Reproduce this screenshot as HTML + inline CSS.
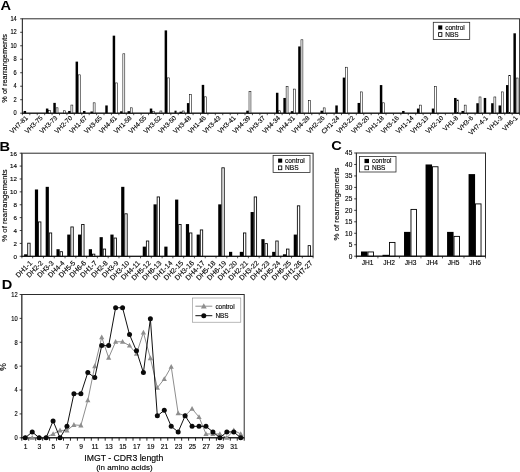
<!DOCTYPE html>
<html><head><meta charset="utf-8"><title>Figure</title>
<style>
html,body{margin:0;padding:0;background:#fff;}
svg{display:block;}
svg text{font-family:'Liberation Sans', sans-serif;}
</style></head><body>
<svg width="520" height="472" viewBox="0 0 520 472">
<rect width="520" height="472" fill="#fff"/>
<g id="panelA">
<text x="0.60" y="10.10" font-size="12.5" text-anchor="start" font-weight="bold" fill="#000" transform="translate(0.60 10.10) scale(1.17 1) translate(-0.60 -10.10)">A</text>
<rect x="22.4" y="18.8" width="497.20" height="94.40" fill="none" stroke="#2c2c2c" stroke-width="1"/>
<rect x="23.64" y="110.97" width="2.47" height="2.23" fill="#000"/>
<rect x="45.90" y="108.55" width="2.47" height="4.65" fill="#000"/>
<rect x="48.65" y="110.71" width="1.92" height="2.49" fill="#fff" stroke="#000" stroke-width="0.55"/>
<rect x="53.32" y="102.88" width="2.47" height="10.32" fill="#000"/>
<rect x="56.07" y="107.81" width="1.92" height="5.39" fill="#fff" stroke="#000" stroke-width="0.55"/>
<rect x="63.49" y="110.78" width="1.92" height="2.42" fill="#fff" stroke="#000" stroke-width="0.55"/>
<rect x="68.16" y="110.97" width="2.47" height="2.23" fill="#000"/>
<rect x="70.91" y="105.05" width="1.92" height="8.15" fill="#fff" stroke="#000" stroke-width="0.55"/>
<rect x="75.58" y="61.62" width="2.47" height="51.58" fill="#000"/>
<rect x="78.33" y="74.84" width="1.92" height="38.36" fill="#fff" stroke="#000" stroke-width="0.55"/>
<rect x="83.00" y="110.97" width="2.47" height="2.23" fill="#000"/>
<rect x="90.42" y="111.51" width="2.47" height="1.69" fill="#000"/>
<rect x="93.17" y="102.82" width="1.92" height="10.38" fill="#fff" stroke="#000" stroke-width="0.55"/>
<rect x="105.27" y="105.45" width="2.47" height="7.75" fill="#000"/>
<rect x="112.69" y="35.66" width="2.47" height="77.54" fill="#000"/>
<rect x="115.44" y="82.93" width="1.92" height="30.27" fill="#fff" stroke="#000" stroke-width="0.55"/>
<rect x="120.11" y="111.31" width="2.47" height="1.89" fill="#000"/>
<rect x="122.86" y="53.80" width="1.92" height="59.40" fill="#fff" stroke="#000" stroke-width="0.55"/>
<rect x="127.53" y="111.18" width="2.47" height="2.02" fill="#000"/>
<rect x="130.28" y="107.81" width="1.92" height="5.39" fill="#fff" stroke="#000" stroke-width="0.55"/>
<rect x="149.79" y="108.55" width="2.47" height="4.65" fill="#000"/>
<rect x="152.54" y="111.25" width="1.92" height="1.95" fill="#fff" stroke="#000" stroke-width="0.55"/>
<rect x="159.96" y="110.98" width="1.92" height="2.22" fill="#fff" stroke="#000" stroke-width="0.55"/>
<rect x="164.63" y="30.40" width="2.47" height="82.80" fill="#000"/>
<rect x="167.38" y="77.87" width="1.92" height="35.33" fill="#fff" stroke="#000" stroke-width="0.55"/>
<rect x="174.80" y="110.98" width="1.92" height="2.22" fill="#fff" stroke="#000" stroke-width="0.55"/>
<rect x="179.48" y="111.72" width="2.47" height="1.48" fill="#000"/>
<rect x="182.22" y="110.98" width="1.92" height="2.22" fill="#fff" stroke="#000" stroke-width="0.55"/>
<rect x="186.90" y="103.09" width="2.47" height="10.11" fill="#000"/>
<rect x="189.65" y="94.60" width="1.92" height="18.60" fill="#fff" stroke="#000" stroke-width="0.55"/>
<rect x="201.74" y="84.88" width="2.47" height="28.32" fill="#000"/>
<rect x="204.49" y="96.82" width="1.92" height="16.38" fill="#fff" stroke="#000" stroke-width="0.55"/>
<rect x="246.26" y="110.71" width="2.47" height="2.49" fill="#000"/>
<rect x="249.01" y="91.56" width="1.92" height="21.64" fill="#fff" stroke="#000" stroke-width="0.55"/>
<rect x="275.95" y="92.77" width="2.47" height="20.43" fill="#000"/>
<rect x="278.70" y="110.78" width="1.92" height="2.42" fill="#fff" stroke="#000" stroke-width="0.55"/>
<rect x="283.37" y="97.96" width="2.47" height="15.24" fill="#000"/>
<rect x="286.12" y="86.37" width="1.92" height="26.83" fill="#fff" stroke="#000" stroke-width="0.55"/>
<rect x="290.79" y="111.18" width="2.47" height="2.02" fill="#000"/>
<rect x="293.54" y="89.07" width="1.92" height="24.13" fill="#fff" stroke="#000" stroke-width="0.55"/>
<rect x="298.21" y="46.45" width="2.47" height="66.75" fill="#000"/>
<rect x="300.96" y="39.78" width="1.92" height="73.42" fill="#fff" stroke="#000" stroke-width="0.55"/>
<rect x="308.38" y="100.33" width="1.92" height="12.87" fill="#fff" stroke="#000" stroke-width="0.55"/>
<rect x="320.47" y="110.71" width="2.47" height="2.49" fill="#000"/>
<rect x="323.22" y="107.88" width="1.92" height="5.32" fill="#fff" stroke="#000" stroke-width="0.55"/>
<rect x="335.31" y="105.45" width="2.47" height="7.75" fill="#000"/>
<rect x="342.74" y="77.60" width="2.47" height="35.60" fill="#000"/>
<rect x="345.48" y="67.22" width="1.92" height="45.98" fill="#fff" stroke="#000" stroke-width="0.55"/>
<rect x="357.58" y="102.95" width="2.47" height="10.25" fill="#000"/>
<rect x="360.33" y="91.90" width="1.92" height="21.30" fill="#fff" stroke="#000" stroke-width="0.55"/>
<rect x="379.84" y="85.08" width="2.47" height="28.12" fill="#000"/>
<rect x="382.59" y="102.82" width="1.92" height="10.38" fill="#fff" stroke="#000" stroke-width="0.55"/>
<rect x="402.10" y="110.97" width="2.47" height="2.23" fill="#000"/>
<rect x="416.94" y="108.55" width="2.47" height="4.65" fill="#000"/>
<rect x="419.69" y="105.11" width="1.92" height="8.09" fill="#fff" stroke="#000" stroke-width="0.55"/>
<rect x="431.79" y="108.55" width="2.47" height="4.65" fill="#000"/>
<rect x="434.53" y="86.30" width="1.92" height="26.90" fill="#fff" stroke="#000" stroke-width="0.55"/>
<rect x="454.05" y="97.96" width="2.47" height="15.24" fill="#000"/>
<rect x="456.80" y="99.99" width="1.92" height="13.21" fill="#fff" stroke="#000" stroke-width="0.55"/>
<rect x="461.47" y="110.97" width="2.47" height="2.23" fill="#000"/>
<rect x="464.22" y="105.11" width="1.92" height="8.09" fill="#fff" stroke="#000" stroke-width="0.55"/>
<rect x="476.31" y="103.22" width="2.47" height="9.98" fill="#000"/>
<rect x="479.06" y="96.96" width="1.92" height="16.24" fill="#fff" stroke="#000" stroke-width="0.55"/>
<rect x="483.73" y="97.96" width="2.47" height="15.24" fill="#000"/>
<rect x="491.15" y="103.22" width="2.47" height="9.98" fill="#000"/>
<rect x="493.90" y="96.96" width="1.92" height="16.24" fill="#fff" stroke="#000" stroke-width="0.55"/>
<rect x="498.57" y="105.45" width="2.47" height="7.75" fill="#000"/>
<rect x="501.32" y="91.90" width="1.92" height="21.30" fill="#fff" stroke="#000" stroke-width="0.55"/>
<rect x="506.00" y="85.08" width="2.47" height="28.12" fill="#000"/>
<rect x="508.74" y="75.38" width="1.92" height="37.82" fill="#fff" stroke="#000" stroke-width="0.55"/>
<rect x="513.42" y="33.30" width="2.47" height="79.90" fill="#000"/>
<rect x="516.16" y="78.01" width="1.92" height="35.19" fill="#fff" stroke="#000" stroke-width="0.55"/>
<line x1="22.40" y1="18.80" x2="22.40" y2="113.60" stroke="#3a3a3a" stroke-width="1.0"/>
<line x1="22.00" y1="113.20" x2="519.60" y2="113.20" stroke="#111" stroke-width="1.0"/>
<line x1="20.20" y1="113.20" x2="22.40" y2="113.20" stroke="#111" stroke-width="0.8"/>
<text x="16.80" y="115.40" font-size="6.3" text-anchor="end" font-weight="normal" fill="#000" transform="translate(16.80 115.40) scale(0.9 1) translate(-16.80 -115.40)" stroke="#000" stroke-width="0.13">0</text>
<line x1="20.20" y1="99.71" x2="22.40" y2="99.71" stroke="#111" stroke-width="0.8"/>
<text x="16.80" y="101.91" font-size="6.3" text-anchor="end" font-weight="normal" fill="#000" transform="translate(16.80 101.91) scale(0.9 1) translate(-16.80 -101.91)" stroke="#000" stroke-width="0.13">2</text>
<line x1="20.20" y1="86.23" x2="22.40" y2="86.23" stroke="#111" stroke-width="0.8"/>
<text x="16.80" y="88.43" font-size="6.3" text-anchor="end" font-weight="normal" fill="#000" transform="translate(16.80 88.43) scale(0.9 1) translate(-16.80 -88.43)" stroke="#000" stroke-width="0.13">4</text>
<line x1="20.20" y1="72.74" x2="22.40" y2="72.74" stroke="#111" stroke-width="0.8"/>
<text x="16.80" y="74.94" font-size="6.3" text-anchor="end" font-weight="normal" fill="#000" transform="translate(16.80 74.94) scale(0.9 1) translate(-16.80 -74.94)" stroke="#000" stroke-width="0.13">6</text>
<line x1="20.20" y1="59.26" x2="22.40" y2="59.26" stroke="#111" stroke-width="0.8"/>
<text x="16.80" y="61.46" font-size="6.3" text-anchor="end" font-weight="normal" fill="#000" transform="translate(16.80 61.46) scale(0.9 1) translate(-16.80 -61.46)" stroke="#000" stroke-width="0.13">8</text>
<line x1="20.20" y1="45.77" x2="22.40" y2="45.77" stroke="#111" stroke-width="0.8"/>
<text x="16.80" y="47.97" font-size="6.3" text-anchor="end" font-weight="normal" fill="#000" transform="translate(16.80 47.97) scale(0.9 1) translate(-16.80 -47.97)" stroke="#000" stroke-width="0.13">10</text>
<line x1="20.20" y1="32.29" x2="22.40" y2="32.29" stroke="#111" stroke-width="0.8"/>
<text x="16.80" y="34.49" font-size="6.3" text-anchor="end" font-weight="normal" fill="#000" transform="translate(16.80 34.49) scale(0.9 1) translate(-16.80 -34.49)" stroke="#000" stroke-width="0.13">12</text>
<line x1="20.20" y1="18.80" x2="22.40" y2="18.80" stroke="#111" stroke-width="0.8"/>
<text x="16.80" y="21.00" font-size="6.3" text-anchor="end" font-weight="normal" fill="#000" transform="translate(16.80 21.00) scale(0.9 1) translate(-16.80 -21.00)" stroke="#000" stroke-width="0.13">14</text>
<line x1="22.40" y1="113.20" x2="22.40" y2="115.20" stroke="#111" stroke-width="0.7"/>
<line x1="29.82" y1="113.20" x2="29.82" y2="115.20" stroke="#111" stroke-width="0.7"/>
<line x1="37.24" y1="113.20" x2="37.24" y2="115.20" stroke="#111" stroke-width="0.7"/>
<line x1="44.66" y1="113.20" x2="44.66" y2="115.20" stroke="#111" stroke-width="0.7"/>
<line x1="52.08" y1="113.20" x2="52.08" y2="115.20" stroke="#111" stroke-width="0.7"/>
<line x1="59.50" y1="113.20" x2="59.50" y2="115.20" stroke="#111" stroke-width="0.7"/>
<line x1="66.93" y1="113.20" x2="66.93" y2="115.20" stroke="#111" stroke-width="0.7"/>
<line x1="74.35" y1="113.20" x2="74.35" y2="115.20" stroke="#111" stroke-width="0.7"/>
<line x1="81.77" y1="113.20" x2="81.77" y2="115.20" stroke="#111" stroke-width="0.7"/>
<line x1="89.19" y1="113.20" x2="89.19" y2="115.20" stroke="#111" stroke-width="0.7"/>
<line x1="96.61" y1="113.20" x2="96.61" y2="115.20" stroke="#111" stroke-width="0.7"/>
<line x1="104.03" y1="113.20" x2="104.03" y2="115.20" stroke="#111" stroke-width="0.7"/>
<line x1="111.45" y1="113.20" x2="111.45" y2="115.20" stroke="#111" stroke-width="0.7"/>
<line x1="118.87" y1="113.20" x2="118.87" y2="115.20" stroke="#111" stroke-width="0.7"/>
<line x1="126.29" y1="113.20" x2="126.29" y2="115.20" stroke="#111" stroke-width="0.7"/>
<line x1="133.71" y1="113.20" x2="133.71" y2="115.20" stroke="#111" stroke-width="0.7"/>
<line x1="141.13" y1="113.20" x2="141.13" y2="115.20" stroke="#111" stroke-width="0.7"/>
<line x1="148.56" y1="113.20" x2="148.56" y2="115.20" stroke="#111" stroke-width="0.7"/>
<line x1="155.98" y1="113.20" x2="155.98" y2="115.20" stroke="#111" stroke-width="0.7"/>
<line x1="163.40" y1="113.20" x2="163.40" y2="115.20" stroke="#111" stroke-width="0.7"/>
<line x1="170.82" y1="113.20" x2="170.82" y2="115.20" stroke="#111" stroke-width="0.7"/>
<line x1="178.24" y1="113.20" x2="178.24" y2="115.20" stroke="#111" stroke-width="0.7"/>
<line x1="185.66" y1="113.20" x2="185.66" y2="115.20" stroke="#111" stroke-width="0.7"/>
<line x1="193.08" y1="113.20" x2="193.08" y2="115.20" stroke="#111" stroke-width="0.7"/>
<line x1="200.50" y1="113.20" x2="200.50" y2="115.20" stroke="#111" stroke-width="0.7"/>
<line x1="207.92" y1="113.20" x2="207.92" y2="115.20" stroke="#111" stroke-width="0.7"/>
<line x1="215.34" y1="113.20" x2="215.34" y2="115.20" stroke="#111" stroke-width="0.7"/>
<line x1="222.76" y1="113.20" x2="222.76" y2="115.20" stroke="#111" stroke-width="0.7"/>
<line x1="230.19" y1="113.20" x2="230.19" y2="115.20" stroke="#111" stroke-width="0.7"/>
<line x1="237.61" y1="113.20" x2="237.61" y2="115.20" stroke="#111" stroke-width="0.7"/>
<line x1="245.03" y1="113.20" x2="245.03" y2="115.20" stroke="#111" stroke-width="0.7"/>
<line x1="252.45" y1="113.20" x2="252.45" y2="115.20" stroke="#111" stroke-width="0.7"/>
<line x1="259.87" y1="113.20" x2="259.87" y2="115.20" stroke="#111" stroke-width="0.7"/>
<line x1="267.29" y1="113.20" x2="267.29" y2="115.20" stroke="#111" stroke-width="0.7"/>
<line x1="274.71" y1="113.20" x2="274.71" y2="115.20" stroke="#111" stroke-width="0.7"/>
<line x1="282.13" y1="113.20" x2="282.13" y2="115.20" stroke="#111" stroke-width="0.7"/>
<line x1="289.55" y1="113.20" x2="289.55" y2="115.20" stroke="#111" stroke-width="0.7"/>
<line x1="296.97" y1="113.20" x2="296.97" y2="115.20" stroke="#111" stroke-width="0.7"/>
<line x1="304.39" y1="113.20" x2="304.39" y2="115.20" stroke="#111" stroke-width="0.7"/>
<line x1="311.81" y1="113.20" x2="311.81" y2="115.20" stroke="#111" stroke-width="0.7"/>
<line x1="319.24" y1="113.20" x2="319.24" y2="115.20" stroke="#111" stroke-width="0.7"/>
<line x1="326.66" y1="113.20" x2="326.66" y2="115.20" stroke="#111" stroke-width="0.7"/>
<line x1="334.08" y1="113.20" x2="334.08" y2="115.20" stroke="#111" stroke-width="0.7"/>
<line x1="341.50" y1="113.20" x2="341.50" y2="115.20" stroke="#111" stroke-width="0.7"/>
<line x1="348.92" y1="113.20" x2="348.92" y2="115.20" stroke="#111" stroke-width="0.7"/>
<line x1="356.34" y1="113.20" x2="356.34" y2="115.20" stroke="#111" stroke-width="0.7"/>
<line x1="363.76" y1="113.20" x2="363.76" y2="115.20" stroke="#111" stroke-width="0.7"/>
<line x1="371.18" y1="113.20" x2="371.18" y2="115.20" stroke="#111" stroke-width="0.7"/>
<line x1="378.60" y1="113.20" x2="378.60" y2="115.20" stroke="#111" stroke-width="0.7"/>
<line x1="386.02" y1="113.20" x2="386.02" y2="115.20" stroke="#111" stroke-width="0.7"/>
<line x1="393.44" y1="113.20" x2="393.44" y2="115.20" stroke="#111" stroke-width="0.7"/>
<line x1="400.87" y1="113.20" x2="400.87" y2="115.20" stroke="#111" stroke-width="0.7"/>
<line x1="408.29" y1="113.20" x2="408.29" y2="115.20" stroke="#111" stroke-width="0.7"/>
<line x1="415.71" y1="113.20" x2="415.71" y2="115.20" stroke="#111" stroke-width="0.7"/>
<line x1="423.13" y1="113.20" x2="423.13" y2="115.20" stroke="#111" stroke-width="0.7"/>
<line x1="430.55" y1="113.20" x2="430.55" y2="115.20" stroke="#111" stroke-width="0.7"/>
<line x1="437.97" y1="113.20" x2="437.97" y2="115.20" stroke="#111" stroke-width="0.7"/>
<line x1="445.39" y1="113.20" x2="445.39" y2="115.20" stroke="#111" stroke-width="0.7"/>
<line x1="452.81" y1="113.20" x2="452.81" y2="115.20" stroke="#111" stroke-width="0.7"/>
<line x1="460.23" y1="113.20" x2="460.23" y2="115.20" stroke="#111" stroke-width="0.7"/>
<line x1="467.65" y1="113.20" x2="467.65" y2="115.20" stroke="#111" stroke-width="0.7"/>
<line x1="475.07" y1="113.20" x2="475.07" y2="115.20" stroke="#111" stroke-width="0.7"/>
<line x1="482.50" y1="113.20" x2="482.50" y2="115.20" stroke="#111" stroke-width="0.7"/>
<line x1="489.92" y1="113.20" x2="489.92" y2="115.20" stroke="#111" stroke-width="0.7"/>
<line x1="497.34" y1="113.20" x2="497.34" y2="115.20" stroke="#111" stroke-width="0.7"/>
<line x1="504.76" y1="113.20" x2="504.76" y2="115.20" stroke="#111" stroke-width="0.7"/>
<line x1="512.18" y1="113.20" x2="512.18" y2="115.20" stroke="#111" stroke-width="0.7"/>
<line x1="519.60" y1="113.20" x2="519.60" y2="115.20" stroke="#111" stroke-width="0.7"/>
<text x="28.21" y="118.40" font-size="6.5" text-anchor="end" font-weight="normal" fill="#000" transform="rotate(-45 28.21 118.40)" stroke="#000" stroke-width="0.13">VH7-81</text>
<text x="43.05" y="118.40" font-size="6.5" text-anchor="end" font-weight="normal" fill="#000" transform="rotate(-45 43.05 118.40)" stroke="#000" stroke-width="0.13">VH3-75</text>
<text x="57.89" y="118.40" font-size="6.5" text-anchor="end" font-weight="normal" fill="#000" transform="rotate(-45 57.89 118.40)" stroke="#000" stroke-width="0.13">VH3-73</text>
<text x="72.74" y="118.40" font-size="6.5" text-anchor="end" font-weight="normal" fill="#000" transform="rotate(-45 72.74 118.40)" stroke="#000" stroke-width="0.13">VH2-70</text>
<text x="87.58" y="118.40" font-size="6.5" text-anchor="end" font-weight="normal" fill="#000" transform="rotate(-45 87.58 118.40)" stroke="#000" stroke-width="0.13">VH1-67</text>
<text x="102.42" y="118.40" font-size="6.5" text-anchor="end" font-weight="normal" fill="#000" transform="rotate(-45 102.42 118.40)" stroke="#000" stroke-width="0.13">VH3-65</text>
<text x="117.26" y="118.40" font-size="6.5" text-anchor="end" font-weight="normal" fill="#000" transform="rotate(-45 117.26 118.40)" stroke="#000" stroke-width="0.13">VH4-61</text>
<text x="132.10" y="118.40" font-size="6.5" text-anchor="end" font-weight="normal" fill="#000" transform="rotate(-45 132.10 118.40)" stroke="#000" stroke-width="0.13">VH1-58</text>
<text x="146.94" y="118.40" font-size="6.5" text-anchor="end" font-weight="normal" fill="#000" transform="rotate(-45 146.94 118.40)" stroke="#000" stroke-width="0.13">VH4-55</text>
<text x="161.79" y="118.40" font-size="6.5" text-anchor="end" font-weight="normal" fill="#000" transform="rotate(-45 161.79 118.40)" stroke="#000" stroke-width="0.13">VH3-52</text>
<text x="176.63" y="118.40" font-size="6.5" text-anchor="end" font-weight="normal" fill="#000" transform="rotate(-45 176.63 118.40)" stroke="#000" stroke-width="0.13">VH3-50</text>
<text x="191.47" y="118.40" font-size="6.5" text-anchor="end" font-weight="normal" fill="#000" transform="rotate(-45 191.47 118.40)" stroke="#000" stroke-width="0.13">VH3-48</text>
<text x="206.31" y="118.40" font-size="6.5" text-anchor="end" font-weight="normal" fill="#000" transform="rotate(-45 206.31 118.40)" stroke="#000" stroke-width="0.13">VH1-46</text>
<text x="221.15" y="118.40" font-size="6.5" text-anchor="end" font-weight="normal" fill="#000" transform="rotate(-45 221.15 118.40)" stroke="#000" stroke-width="0.13">VH3-43</text>
<text x="236.00" y="118.40" font-size="6.5" text-anchor="end" font-weight="normal" fill="#000" transform="rotate(-45 236.00 118.40)" stroke="#000" stroke-width="0.13">VH3-41</text>
<text x="250.84" y="118.40" font-size="6.5" text-anchor="end" font-weight="normal" fill="#000" transform="rotate(-45 250.84 118.40)" stroke="#000" stroke-width="0.13">VH4-39</text>
<text x="265.68" y="118.40" font-size="6.5" text-anchor="end" font-weight="normal" fill="#000" transform="rotate(-45 265.68 118.40)" stroke="#000" stroke-width="0.13">VH3-37</text>
<text x="280.52" y="118.40" font-size="6.5" text-anchor="end" font-weight="normal" fill="#000" transform="rotate(-45 280.52 118.40)" stroke="#000" stroke-width="0.13">VH4-34</text>
<text x="295.36" y="118.40" font-size="6.5" text-anchor="end" font-weight="normal" fill="#000" transform="rotate(-45 295.36 118.40)" stroke="#000" stroke-width="0.13">VH4-31</text>
<text x="310.20" y="118.40" font-size="6.5" text-anchor="end" font-weight="normal" fill="#000" transform="rotate(-45 310.20 118.40)" stroke="#000" stroke-width="0.13">VH4-28</text>
<text x="325.05" y="118.40" font-size="6.5" text-anchor="end" font-weight="normal" fill="#000" transform="rotate(-45 325.05 118.40)" stroke="#000" stroke-width="0.13">VH2-26</text>
<text x="339.89" y="118.40" font-size="6.5" text-anchor="end" font-weight="normal" fill="#000" transform="rotate(-45 339.89 118.40)" stroke="#000" stroke-width="0.13">CH1-24</text>
<text x="354.73" y="118.40" font-size="6.5" text-anchor="end" font-weight="normal" fill="#000" transform="rotate(-45 354.73 118.40)" stroke="#000" stroke-width="0.13">VH3-22</text>
<text x="369.57" y="118.40" font-size="6.5" text-anchor="end" font-weight="normal" fill="#000" transform="rotate(-45 369.57 118.40)" stroke="#000" stroke-width="0.13">VH3-20</text>
<text x="384.41" y="118.40" font-size="6.5" text-anchor="end" font-weight="normal" fill="#000" transform="rotate(-45 384.41 118.40)" stroke="#000" stroke-width="0.13">VH1-18</text>
<text x="399.26" y="118.40" font-size="6.5" text-anchor="end" font-weight="normal" fill="#000" transform="rotate(-45 399.26 118.40)" stroke="#000" stroke-width="0.13">VH3-16</text>
<text x="414.10" y="118.40" font-size="6.5" text-anchor="end" font-weight="normal" fill="#000" transform="rotate(-45 414.10 118.40)" stroke="#000" stroke-width="0.13">VH1-14</text>
<text x="428.94" y="118.40" font-size="6.5" text-anchor="end" font-weight="normal" fill="#000" transform="rotate(-45 428.94 118.40)" stroke="#000" stroke-width="0.13">VH3-13</text>
<text x="443.78" y="118.40" font-size="6.5" text-anchor="end" font-weight="normal" fill="#000" transform="rotate(-45 443.78 118.40)" stroke="#000" stroke-width="0.13">VH2-10</text>
<text x="458.62" y="118.40" font-size="6.5" text-anchor="end" font-weight="normal" fill="#000" transform="rotate(-45 458.62 118.40)" stroke="#000" stroke-width="0.13">VH1-8</text>
<text x="473.46" y="118.40" font-size="6.5" text-anchor="end" font-weight="normal" fill="#000" transform="rotate(-45 473.46 118.40)" stroke="#000" stroke-width="0.13">VH3-6</text>
<text x="488.31" y="118.40" font-size="6.5" text-anchor="end" font-weight="normal" fill="#000" transform="rotate(-45 488.31 118.40)" stroke="#000" stroke-width="0.13">VH7-4-1</text>
<text x="503.15" y="118.40" font-size="6.5" text-anchor="end" font-weight="normal" fill="#000" transform="rotate(-45 503.15 118.40)" stroke="#000" stroke-width="0.13">VH1-3</text>
<text x="517.99" y="118.40" font-size="6.5" text-anchor="end" font-weight="normal" fill="#000" transform="rotate(-45 517.99 118.40)" stroke="#000" stroke-width="0.13">VH6-1</text>
<text x="7.20" y="68.40" font-size="7.35" text-anchor="middle" font-weight="normal" fill="#000" transform="rotate(-90 7.20 68.40)" stroke="#000" stroke-width="0.13">% of rearrangements</text>
<rect x="433.3" y="22.3" width="36.4" height="17.1" fill="#fff" stroke="#2c2c2c" stroke-width="0.8"/>
<rect x="438.20" y="25.40" width="4.10" height="4.20" fill="#000"/>
<rect x="438.62" y="32.62" width="3.25" height="3.77" fill="#fff" stroke="#000" stroke-width="0.85"/>
<text x="445.20" y="29.80" font-size="6.5" text-anchor="start" font-weight="normal" fill="#000" stroke="#000" stroke-width="0.13">control</text>
<text x="445.20" y="36.70" font-size="6.5" text-anchor="start" font-weight="normal" fill="#000" stroke="#000" stroke-width="0.13">NBS</text>
</g>
<g id="panelB">
<text x="-0.60" y="151.00" font-size="12.5" text-anchor="start" font-weight="bold" fill="#000" transform="translate(-0.60 151.00) scale(1.17 1) translate(0.60 -151.00)">B</text>
<rect x="21.9" y="153.2" width="291.20" height="103.10" fill="none" stroke="#2c2c2c" stroke-width="1"/>
<rect x="24.10" y="254.30" width="3.20" height="2.00" fill="#000"/>
<rect x="27.72" y="243.19" width="2.40" height="13.11" fill="#fff" stroke="#000" stroke-width="0.85"/>
<rect x="34.89" y="189.48" width="3.20" height="66.82" fill="#000"/>
<rect x="38.51" y="221.93" width="2.40" height="34.37" fill="#fff" stroke="#000" stroke-width="0.85"/>
<rect x="45.67" y="186.84" width="3.20" height="69.46" fill="#000"/>
<rect x="49.30" y="232.95" width="2.40" height="23.35" fill="#fff" stroke="#000" stroke-width="0.85"/>
<rect x="56.46" y="249.21" width="3.20" height="7.09" fill="#000"/>
<rect x="60.08" y="251.70" width="2.40" height="4.60" fill="#fff" stroke="#000" stroke-width="0.85"/>
<rect x="67.24" y="234.58" width="3.20" height="21.72" fill="#000"/>
<rect x="70.87" y="226.95" width="2.40" height="29.35" fill="#fff" stroke="#000" stroke-width="0.85"/>
<rect x="78.03" y="234.58" width="3.20" height="21.72" fill="#000"/>
<rect x="81.65" y="224.51" width="2.40" height="31.79" fill="#fff" stroke="#000" stroke-width="0.85"/>
<rect x="88.81" y="249.21" width="3.20" height="7.09" fill="#000"/>
<rect x="92.44" y="254.15" width="2.40" height="2.15" fill="#fff" stroke="#000" stroke-width="0.85"/>
<rect x="99.60" y="237.16" width="3.20" height="19.14" fill="#000"/>
<rect x="103.22" y="249.06" width="2.40" height="7.24" fill="#fff" stroke="#000" stroke-width="0.85"/>
<rect x="110.38" y="234.58" width="3.20" height="21.72" fill="#000"/>
<rect x="114.01" y="238.04" width="2.40" height="18.26" fill="#fff" stroke="#000" stroke-width="0.85"/>
<rect x="121.17" y="186.84" width="3.20" height="69.46" fill="#000"/>
<rect x="124.79" y="213.81" width="2.40" height="42.49" fill="#fff" stroke="#000" stroke-width="0.85"/>
<rect x="142.74" y="246.63" width="3.20" height="9.67" fill="#000"/>
<rect x="146.36" y="241.00" width="2.40" height="15.30" fill="#fff" stroke="#000" stroke-width="0.85"/>
<rect x="153.52" y="204.36" width="3.20" height="51.94" fill="#000"/>
<rect x="157.15" y="196.93" width="2.40" height="59.37" fill="#fff" stroke="#000" stroke-width="0.85"/>
<rect x="164.31" y="246.63" width="3.20" height="9.67" fill="#000"/>
<rect x="175.09" y="199.59" width="3.20" height="56.71" fill="#000"/>
<rect x="178.72" y="224.51" width="2.40" height="31.79" fill="#fff" stroke="#000" stroke-width="0.85"/>
<rect x="185.88" y="224.08" width="3.20" height="32.22" fill="#000"/>
<rect x="189.50" y="232.95" width="2.40" height="23.35" fill="#fff" stroke="#000" stroke-width="0.85"/>
<rect x="196.66" y="234.58" width="3.20" height="21.72" fill="#000"/>
<rect x="200.29" y="229.92" width="2.40" height="26.38" fill="#fff" stroke="#000" stroke-width="0.85"/>
<rect x="218.23" y="204.36" width="3.20" height="51.94" fill="#000"/>
<rect x="221.86" y="167.80" width="2.40" height="88.50" fill="#fff" stroke="#000" stroke-width="0.85"/>
<rect x="229.02" y="251.85" width="3.20" height="4.45" fill="#000"/>
<rect x="239.80" y="251.85" width="3.20" height="4.45" fill="#000"/>
<rect x="243.43" y="232.95" width="2.40" height="23.35" fill="#fff" stroke="#000" stroke-width="0.85"/>
<rect x="250.59" y="212.03" width="3.20" height="44.27" fill="#000"/>
<rect x="254.21" y="196.93" width="2.40" height="59.37" fill="#fff" stroke="#000" stroke-width="0.85"/>
<rect x="261.37" y="239.16" width="3.20" height="17.14" fill="#000"/>
<rect x="265.00" y="243.64" width="2.40" height="12.66" fill="#fff" stroke="#000" stroke-width="0.85"/>
<rect x="272.16" y="251.85" width="3.20" height="4.45" fill="#000"/>
<rect x="275.78" y="241.00" width="2.40" height="15.30" fill="#fff" stroke="#000" stroke-width="0.85"/>
<rect x="282.94" y="254.30" width="3.20" height="2.00" fill="#000"/>
<rect x="286.57" y="249.06" width="2.40" height="7.24" fill="#fff" stroke="#000" stroke-width="0.85"/>
<rect x="293.73" y="234.58" width="3.20" height="21.72" fill="#000"/>
<rect x="297.35" y="205.82" width="2.40" height="50.48" fill="#fff" stroke="#000" stroke-width="0.85"/>
<rect x="308.14" y="245.64" width="2.40" height="10.66" fill="#fff" stroke="#000" stroke-width="0.85"/>
<line x1="21.90" y1="153.20" x2="21.90" y2="256.70" stroke="#3a3a3a" stroke-width="1.0"/>
<line x1="21.50" y1="256.30" x2="313.10" y2="256.30" stroke="#111" stroke-width="1.0"/>
<line x1="19.70" y1="256.30" x2="21.90" y2="256.30" stroke="#111" stroke-width="0.8"/>
<text x="17.00" y="258.60" font-size="6.2" text-anchor="end" font-weight="normal" fill="#000" stroke="#000" stroke-width="0.13">0</text>
<line x1="19.70" y1="243.41" x2="21.90" y2="243.41" stroke="#111" stroke-width="0.8"/>
<text x="17.00" y="245.71" font-size="6.2" text-anchor="end" font-weight="normal" fill="#000" stroke="#000" stroke-width="0.13">2</text>
<line x1="19.70" y1="230.53" x2="21.90" y2="230.53" stroke="#111" stroke-width="0.8"/>
<text x="17.00" y="232.83" font-size="6.2" text-anchor="end" font-weight="normal" fill="#000" stroke="#000" stroke-width="0.13">4</text>
<line x1="19.70" y1="217.64" x2="21.90" y2="217.64" stroke="#111" stroke-width="0.8"/>
<text x="17.00" y="219.94" font-size="6.2" text-anchor="end" font-weight="normal" fill="#000" stroke="#000" stroke-width="0.13">6</text>
<line x1="19.70" y1="204.75" x2="21.90" y2="204.75" stroke="#111" stroke-width="0.8"/>
<text x="17.00" y="207.05" font-size="6.2" text-anchor="end" font-weight="normal" fill="#000" stroke="#000" stroke-width="0.13">8</text>
<line x1="19.70" y1="191.86" x2="21.90" y2="191.86" stroke="#111" stroke-width="0.8"/>
<text x="17.00" y="194.16" font-size="6.2" text-anchor="end" font-weight="normal" fill="#000" stroke="#000" stroke-width="0.13">10</text>
<line x1="19.70" y1="178.97" x2="21.90" y2="178.97" stroke="#111" stroke-width="0.8"/>
<text x="17.00" y="181.28" font-size="6.2" text-anchor="end" font-weight="normal" fill="#000" stroke="#000" stroke-width="0.13">12</text>
<line x1="19.70" y1="166.09" x2="21.90" y2="166.09" stroke="#111" stroke-width="0.8"/>
<text x="17.00" y="168.39" font-size="6.2" text-anchor="end" font-weight="normal" fill="#000" stroke="#000" stroke-width="0.13">14</text>
<line x1="19.70" y1="153.20" x2="21.90" y2="153.20" stroke="#111" stroke-width="0.8"/>
<text x="17.00" y="155.50" font-size="6.2" text-anchor="end" font-weight="normal" fill="#000" stroke="#000" stroke-width="0.13">16</text>
<line x1="21.90" y1="256.30" x2="21.90" y2="258.30" stroke="#111" stroke-width="0.7"/>
<line x1="32.69" y1="256.30" x2="32.69" y2="258.30" stroke="#111" stroke-width="0.7"/>
<line x1="43.47" y1="256.30" x2="43.47" y2="258.30" stroke="#111" stroke-width="0.7"/>
<line x1="54.26" y1="256.30" x2="54.26" y2="258.30" stroke="#111" stroke-width="0.7"/>
<line x1="65.04" y1="256.30" x2="65.04" y2="258.30" stroke="#111" stroke-width="0.7"/>
<line x1="75.83" y1="256.30" x2="75.83" y2="258.30" stroke="#111" stroke-width="0.7"/>
<line x1="86.61" y1="256.30" x2="86.61" y2="258.30" stroke="#111" stroke-width="0.7"/>
<line x1="97.40" y1="256.30" x2="97.40" y2="258.30" stroke="#111" stroke-width="0.7"/>
<line x1="108.18" y1="256.30" x2="108.18" y2="258.30" stroke="#111" stroke-width="0.7"/>
<line x1="118.97" y1="256.30" x2="118.97" y2="258.30" stroke="#111" stroke-width="0.7"/>
<line x1="129.75" y1="256.30" x2="129.75" y2="258.30" stroke="#111" stroke-width="0.7"/>
<line x1="140.54" y1="256.30" x2="140.54" y2="258.30" stroke="#111" stroke-width="0.7"/>
<line x1="151.32" y1="256.30" x2="151.32" y2="258.30" stroke="#111" stroke-width="0.7"/>
<line x1="162.11" y1="256.30" x2="162.11" y2="258.30" stroke="#111" stroke-width="0.7"/>
<line x1="172.89" y1="256.30" x2="172.89" y2="258.30" stroke="#111" stroke-width="0.7"/>
<line x1="183.68" y1="256.30" x2="183.68" y2="258.30" stroke="#111" stroke-width="0.7"/>
<line x1="194.46" y1="256.30" x2="194.46" y2="258.30" stroke="#111" stroke-width="0.7"/>
<line x1="205.25" y1="256.30" x2="205.25" y2="258.30" stroke="#111" stroke-width="0.7"/>
<line x1="216.03" y1="256.30" x2="216.03" y2="258.30" stroke="#111" stroke-width="0.7"/>
<line x1="226.82" y1="256.30" x2="226.82" y2="258.30" stroke="#111" stroke-width="0.7"/>
<line x1="237.60" y1="256.30" x2="237.60" y2="258.30" stroke="#111" stroke-width="0.7"/>
<line x1="248.39" y1="256.30" x2="248.39" y2="258.30" stroke="#111" stroke-width="0.7"/>
<line x1="259.17" y1="256.30" x2="259.17" y2="258.30" stroke="#111" stroke-width="0.7"/>
<line x1="269.96" y1="256.30" x2="269.96" y2="258.30" stroke="#111" stroke-width="0.7"/>
<line x1="280.74" y1="256.30" x2="280.74" y2="258.30" stroke="#111" stroke-width="0.7"/>
<line x1="291.53" y1="256.30" x2="291.53" y2="258.30" stroke="#111" stroke-width="0.7"/>
<line x1="302.31" y1="256.30" x2="302.31" y2="258.30" stroke="#111" stroke-width="0.7"/>
<line x1="313.10" y1="256.30" x2="313.10" y2="258.30" stroke="#111" stroke-width="0.7"/>
<text x="32.69" y="263.60" font-size="7.0" text-anchor="end" font-weight="normal" fill="#000" transform="rotate(-45 32.69 263.60)" stroke="#000" stroke-width="0.13">DH1-1</text>
<text x="43.48" y="263.60" font-size="7.0" text-anchor="end" font-weight="normal" fill="#000" transform="rotate(-45 43.48 263.60)" stroke="#000" stroke-width="0.13">DH2-2</text>
<text x="54.26" y="263.60" font-size="7.0" text-anchor="end" font-weight="normal" fill="#000" transform="rotate(-45 54.26 263.60)" stroke="#000" stroke-width="0.13">DH3-3</text>
<text x="65.05" y="263.60" font-size="7.0" text-anchor="end" font-weight="normal" fill="#000" transform="rotate(-45 65.05 263.60)" stroke="#000" stroke-width="0.13">DH4-4</text>
<text x="75.83" y="263.60" font-size="7.0" text-anchor="end" font-weight="normal" fill="#000" transform="rotate(-45 75.83 263.60)" stroke="#000" stroke-width="0.13">DH5-5</text>
<text x="86.62" y="263.60" font-size="7.0" text-anchor="end" font-weight="normal" fill="#000" transform="rotate(-45 86.62 263.60)" stroke="#000" stroke-width="0.13">DH6-6</text>
<text x="97.40" y="263.60" font-size="7.0" text-anchor="end" font-weight="normal" fill="#000" transform="rotate(-45 97.40 263.60)" stroke="#000" stroke-width="0.13">DH1-7</text>
<text x="108.19" y="263.60" font-size="7.0" text-anchor="end" font-weight="normal" fill="#000" transform="rotate(-45 108.19 263.60)" stroke="#000" stroke-width="0.13">DH2-8</text>
<text x="118.97" y="263.60" font-size="7.0" text-anchor="end" font-weight="normal" fill="#000" transform="rotate(-45 118.97 263.60)" stroke="#000" stroke-width="0.13">DH3-9</text>
<text x="129.76" y="263.60" font-size="7.0" text-anchor="end" font-weight="normal" fill="#000" transform="rotate(-45 129.76 263.60)" stroke="#000" stroke-width="0.13">DH3-10</text>
<text x="140.54" y="263.60" font-size="7.0" text-anchor="end" font-weight="normal" fill="#000" transform="rotate(-45 140.54 263.60)" stroke="#000" stroke-width="0.13">DH4-11</text>
<text x="151.33" y="263.60" font-size="7.0" text-anchor="end" font-weight="normal" fill="#000" transform="rotate(-45 151.33 263.60)" stroke="#000" stroke-width="0.13">DH5-12</text>
<text x="162.11" y="263.60" font-size="7.0" text-anchor="end" font-weight="normal" fill="#000" transform="rotate(-45 162.11 263.60)" stroke="#000" stroke-width="0.13">DH6-13</text>
<text x="172.90" y="263.60" font-size="7.0" text-anchor="end" font-weight="normal" fill="#000" transform="rotate(-45 172.90 263.60)" stroke="#000" stroke-width="0.13">DH1-14</text>
<text x="183.69" y="263.60" font-size="7.0" text-anchor="end" font-weight="normal" fill="#000" transform="rotate(-45 183.69 263.60)" stroke="#000" stroke-width="0.13">DH2-15</text>
<text x="194.47" y="263.60" font-size="7.0" text-anchor="end" font-weight="normal" fill="#000" transform="rotate(-45 194.47 263.60)" stroke="#000" stroke-width="0.13">DH3-16</text>
<text x="205.26" y="263.60" font-size="7.0" text-anchor="end" font-weight="normal" fill="#000" transform="rotate(-45 205.26 263.60)" stroke="#000" stroke-width="0.13">DH4-17</text>
<text x="216.04" y="263.60" font-size="7.0" text-anchor="end" font-weight="normal" fill="#000" transform="rotate(-45 216.04 263.60)" stroke="#000" stroke-width="0.13">DH5-18</text>
<text x="226.83" y="263.60" font-size="7.0" text-anchor="end" font-weight="normal" fill="#000" transform="rotate(-45 226.83 263.60)" stroke="#000" stroke-width="0.13">DH6-19</text>
<text x="237.61" y="263.60" font-size="7.0" text-anchor="end" font-weight="normal" fill="#000" transform="rotate(-45 237.61 263.60)" stroke="#000" stroke-width="0.13">DH1-20</text>
<text x="248.40" y="263.60" font-size="7.0" text-anchor="end" font-weight="normal" fill="#000" transform="rotate(-45 248.40 263.60)" stroke="#000" stroke-width="0.13">DH2-21</text>
<text x="259.18" y="263.60" font-size="7.0" text-anchor="end" font-weight="normal" fill="#000" transform="rotate(-45 259.18 263.60)" stroke="#000" stroke-width="0.13">DH3-22</text>
<text x="269.97" y="263.60" font-size="7.0" text-anchor="end" font-weight="normal" fill="#000" transform="rotate(-45 269.97 263.60)" stroke="#000" stroke-width="0.13">DH4-23</text>
<text x="280.75" y="263.60" font-size="7.0" text-anchor="end" font-weight="normal" fill="#000" transform="rotate(-45 280.75 263.60)" stroke="#000" stroke-width="0.13">DH5-24</text>
<text x="291.54" y="263.60" font-size="7.0" text-anchor="end" font-weight="normal" fill="#000" transform="rotate(-45 291.54 263.60)" stroke="#000" stroke-width="0.13">DH6-25</text>
<text x="302.32" y="263.60" font-size="7.0" text-anchor="end" font-weight="normal" fill="#000" transform="rotate(-45 302.32 263.60)" stroke="#000" stroke-width="0.13">DH1-26</text>
<text x="313.11" y="263.60" font-size="7.0" text-anchor="end" font-weight="normal" fill="#000" transform="rotate(-45 313.11 263.60)" stroke="#000" stroke-width="0.13">DH7-27</text>
<text x="7.20" y="205.50" font-size="7.75" text-anchor="middle" font-weight="normal" fill="#000" transform="rotate(-90 7.20 205.50)" stroke="#000" stroke-width="0.13">% of rearrangements</text>
<rect x="273.1" y="155.4" width="36.9" height="17.2" fill="#fff" stroke="#2c2c2c" stroke-width="0.8"/>
<rect x="278.10" y="158.60" width="4.10" height="4.10" fill="#000"/>
<rect x="278.53" y="165.93" width="3.25" height="3.77" fill="#fff" stroke="#000" stroke-width="0.85"/>
<text x="285.00" y="163.00" font-size="6.6" text-anchor="start" font-weight="normal" fill="#000" stroke="#000" stroke-width="0.13">control</text>
<text x="285.00" y="169.80" font-size="6.6" text-anchor="start" font-weight="normal" fill="#000" stroke="#000" stroke-width="0.13">NBS</text>
</g>
<g id="panelC">
<text x="331.20" y="150.40" font-size="12.5" text-anchor="start" font-weight="bold" fill="#000" transform="translate(331.20 150.40) scale(1.17 1) translate(-331.20 -150.40)">C</text>
<rect x="356.4" y="153.0" width="129.10" height="103.20" fill="none" stroke="#2c2c2c" stroke-width="1"/>
<rect x="361.00" y="251.50" width="6.50" height="4.70" fill="#000"/>
<rect x="367.95" y="251.95" width="5.50" height="4.25" fill="#fff" stroke="#000" stroke-width="0.9"/>
<rect x="382.52" y="254.82" width="6.50" height="1.38" fill="#000"/>
<rect x="389.47" y="242.43" width="5.50" height="13.77" fill="#fff" stroke="#000" stroke-width="0.9"/>
<rect x="404.03" y="231.89" width="6.50" height="24.31" fill="#000"/>
<rect x="410.98" y="209.41" width="5.50" height="46.79" fill="#fff" stroke="#000" stroke-width="0.9"/>
<rect x="425.55" y="164.47" width="6.50" height="91.73" fill="#000"/>
<rect x="432.50" y="166.75" width="5.50" height="89.45" fill="#fff" stroke="#000" stroke-width="0.9"/>
<rect x="447.07" y="231.89" width="6.50" height="24.31" fill="#000"/>
<rect x="454.02" y="236.38" width="5.50" height="19.82" fill="#fff" stroke="#000" stroke-width="0.9"/>
<rect x="468.58" y="174.10" width="6.50" height="82.10" fill="#000"/>
<rect x="475.53" y="203.90" width="5.50" height="52.30" fill="#fff" stroke="#000" stroke-width="0.9"/>
<line x1="356.40" y1="153.00" x2="356.40" y2="256.60" stroke="#3a3a3a" stroke-width="1.0"/>
<line x1="356.00" y1="256.20" x2="485.50" y2="256.20" stroke="#111" stroke-width="1.0"/>
<line x1="354.20" y1="256.20" x2="356.40" y2="256.20" stroke="#111" stroke-width="0.8"/>
<text x="352.30" y="258.50" font-size="6.5" text-anchor="end" font-weight="normal" fill="#000" stroke="#000" stroke-width="0.13">0</text>
<line x1="354.20" y1="244.73" x2="356.40" y2="244.73" stroke="#111" stroke-width="0.8"/>
<text x="352.30" y="247.03" font-size="6.5" text-anchor="end" font-weight="normal" fill="#000" stroke="#000" stroke-width="0.13">5</text>
<line x1="354.20" y1="233.27" x2="356.40" y2="233.27" stroke="#111" stroke-width="0.8"/>
<text x="352.30" y="235.57" font-size="6.5" text-anchor="end" font-weight="normal" fill="#000" stroke="#000" stroke-width="0.13">10</text>
<line x1="354.20" y1="221.80" x2="356.40" y2="221.80" stroke="#111" stroke-width="0.8"/>
<text x="352.30" y="224.10" font-size="6.5" text-anchor="end" font-weight="normal" fill="#000" stroke="#000" stroke-width="0.13">15</text>
<line x1="354.20" y1="210.33" x2="356.40" y2="210.33" stroke="#111" stroke-width="0.8"/>
<text x="352.30" y="212.63" font-size="6.5" text-anchor="end" font-weight="normal" fill="#000" stroke="#000" stroke-width="0.13">20</text>
<line x1="354.20" y1="198.87" x2="356.40" y2="198.87" stroke="#111" stroke-width="0.8"/>
<text x="352.30" y="201.17" font-size="6.5" text-anchor="end" font-weight="normal" fill="#000" stroke="#000" stroke-width="0.13">25</text>
<line x1="354.20" y1="187.40" x2="356.40" y2="187.40" stroke="#111" stroke-width="0.8"/>
<text x="352.30" y="189.70" font-size="6.5" text-anchor="end" font-weight="normal" fill="#000" stroke="#000" stroke-width="0.13">30</text>
<line x1="354.20" y1="175.93" x2="356.40" y2="175.93" stroke="#111" stroke-width="0.8"/>
<text x="352.30" y="178.23" font-size="6.5" text-anchor="end" font-weight="normal" fill="#000" stroke="#000" stroke-width="0.13">35</text>
<line x1="354.20" y1="164.47" x2="356.40" y2="164.47" stroke="#111" stroke-width="0.8"/>
<text x="352.30" y="166.77" font-size="6.5" text-anchor="end" font-weight="normal" fill="#000" stroke="#000" stroke-width="0.13">40</text>
<line x1="354.20" y1="153.00" x2="356.40" y2="153.00" stroke="#111" stroke-width="0.8"/>
<text x="352.30" y="155.30" font-size="6.5" text-anchor="end" font-weight="normal" fill="#000" stroke="#000" stroke-width="0.13">45</text>
<line x1="356.40" y1="256.20" x2="356.40" y2="258.40" stroke="#111" stroke-width="0.7"/>
<line x1="377.92" y1="256.20" x2="377.92" y2="258.40" stroke="#111" stroke-width="0.7"/>
<line x1="399.43" y1="256.20" x2="399.43" y2="258.40" stroke="#111" stroke-width="0.7"/>
<line x1="420.95" y1="256.20" x2="420.95" y2="258.40" stroke="#111" stroke-width="0.7"/>
<line x1="442.47" y1="256.20" x2="442.47" y2="258.40" stroke="#111" stroke-width="0.7"/>
<line x1="463.98" y1="256.20" x2="463.98" y2="258.40" stroke="#111" stroke-width="0.7"/>
<line x1="485.50" y1="256.20" x2="485.50" y2="258.40" stroke="#111" stroke-width="0.7"/>
<text x="367.61" y="265.30" font-size="6.6" text-anchor="middle" font-weight="normal" fill="#000" stroke="#000" stroke-width="0.13">JH1</text>
<text x="389.12" y="265.30" font-size="6.6" text-anchor="middle" font-weight="normal" fill="#000" stroke="#000" stroke-width="0.13">JH2</text>
<text x="410.64" y="265.30" font-size="6.6" text-anchor="middle" font-weight="normal" fill="#000" stroke="#000" stroke-width="0.13">JH3</text>
<text x="432.16" y="265.30" font-size="6.6" text-anchor="middle" font-weight="normal" fill="#000" stroke="#000" stroke-width="0.13">JH4</text>
<text x="453.68" y="265.30" font-size="6.6" text-anchor="middle" font-weight="normal" fill="#000" stroke="#000" stroke-width="0.13">JH5</text>
<text x="475.19" y="265.30" font-size="6.6" text-anchor="middle" font-weight="normal" fill="#000" stroke="#000" stroke-width="0.13">JH6</text>
<text x="339.30" y="204.00" font-size="7.8" text-anchor="middle" font-weight="normal" fill="#000" transform="rotate(-90 339.30 204.00)" stroke="#000" stroke-width="0.13">% of rearrangements</text>
<rect x="359.4" y="156.4" width="36.6" height="15.6" fill="#fff" stroke="#2c2c2c" stroke-width="0.8"/>
<rect x="364.50" y="158.90" width="4.50" height="4.20" fill="#000"/>
<rect x="364.93" y="165.93" width="3.65" height="3.77" fill="#fff" stroke="#000" stroke-width="0.85"/>
<text x="372.00" y="163.20" font-size="6.5" text-anchor="start" font-weight="normal" fill="#000" stroke="#000" stroke-width="0.13">control</text>
<text x="372.00" y="169.80" font-size="6.5" text-anchor="start" font-weight="normal" fill="#000" stroke="#000" stroke-width="0.13">NBS</text>
</g>
<g id="panelD">
<text x="1.80" y="289.40" font-size="12.5" text-anchor="start" font-weight="bold" fill="#000" transform="translate(1.80 289.40) scale(1.17 1) translate(-1.80 -289.40)">D</text>
<rect x="21.8" y="294.5" width="222.40" height="143.30" fill="none" stroke="#2c2c2c" stroke-width="1"/>
<line x1="21.80" y1="294.50" x2="21.80" y2="438.20" stroke="#444" stroke-width="1.0"/>
<line x1="21.40" y1="437.80" x2="244.20" y2="437.80" stroke="#111" stroke-width="1.1"/>
<line x1="19.60" y1="437.80" x2="21.80" y2="437.80" stroke="#111" stroke-width="0.8"/>
<text x="17.60" y="440.20" font-size="6.5" text-anchor="end" font-weight="normal" fill="#000" transform="translate(17.60 440.20) scale(0.88 1) translate(-17.60 -440.20)" stroke="#000" stroke-width="0.13">0</text>
<line x1="19.60" y1="413.92" x2="21.80" y2="413.92" stroke="#111" stroke-width="0.8"/>
<text x="17.60" y="416.32" font-size="6.5" text-anchor="end" font-weight="normal" fill="#000" transform="translate(17.60 416.32) scale(0.88 1) translate(-17.60 -416.32)" stroke="#000" stroke-width="0.13">2</text>
<line x1="19.60" y1="390.03" x2="21.80" y2="390.03" stroke="#111" stroke-width="0.8"/>
<text x="17.60" y="392.43" font-size="6.5" text-anchor="end" font-weight="normal" fill="#000" transform="translate(17.60 392.43) scale(0.88 1) translate(-17.60 -392.43)" stroke="#000" stroke-width="0.13">4</text>
<line x1="19.60" y1="366.15" x2="21.80" y2="366.15" stroke="#111" stroke-width="0.8"/>
<text x="17.60" y="368.55" font-size="6.5" text-anchor="end" font-weight="normal" fill="#000" transform="translate(17.60 368.55) scale(0.88 1) translate(-17.60 -368.55)" stroke="#000" stroke-width="0.13">6</text>
<line x1="19.60" y1="342.27" x2="21.80" y2="342.27" stroke="#111" stroke-width="0.8"/>
<text x="17.60" y="344.67" font-size="6.5" text-anchor="end" font-weight="normal" fill="#000" transform="translate(17.60 344.67) scale(0.88 1) translate(-17.60 -344.67)" stroke="#000" stroke-width="0.13">8</text>
<line x1="19.60" y1="318.38" x2="21.80" y2="318.38" stroke="#111" stroke-width="0.8"/>
<text x="17.60" y="320.78" font-size="6.5" text-anchor="end" font-weight="normal" fill="#000" transform="translate(17.60 320.78) scale(0.88 1) translate(-17.60 -320.78)" stroke="#000" stroke-width="0.13">10</text>
<line x1="19.60" y1="294.50" x2="21.80" y2="294.50" stroke="#111" stroke-width="0.8"/>
<text x="17.60" y="296.90" font-size="6.5" text-anchor="end" font-weight="normal" fill="#000" transform="translate(17.60 296.90) scale(0.88 1) translate(-17.60 -296.90)" stroke="#000" stroke-width="0.13">12</text>
<line x1="21.80" y1="437.80" x2="21.80" y2="440.70" stroke="#111" stroke-width="0.9"/>
<line x1="28.75" y1="437.80" x2="28.75" y2="440.70" stroke="#111" stroke-width="0.9"/>
<line x1="35.70" y1="437.80" x2="35.70" y2="440.70" stroke="#111" stroke-width="0.9"/>
<line x1="42.65" y1="437.80" x2="42.65" y2="440.70" stroke="#111" stroke-width="0.9"/>
<line x1="49.60" y1="437.80" x2="49.60" y2="440.70" stroke="#111" stroke-width="0.9"/>
<line x1="56.55" y1="437.80" x2="56.55" y2="440.70" stroke="#111" stroke-width="0.9"/>
<line x1="63.50" y1="437.80" x2="63.50" y2="440.70" stroke="#111" stroke-width="0.9"/>
<line x1="70.45" y1="437.80" x2="70.45" y2="440.70" stroke="#111" stroke-width="0.9"/>
<line x1="77.40" y1="437.80" x2="77.40" y2="440.70" stroke="#111" stroke-width="0.9"/>
<line x1="84.35" y1="437.80" x2="84.35" y2="440.70" stroke="#111" stroke-width="0.9"/>
<line x1="91.30" y1="437.80" x2="91.30" y2="440.70" stroke="#111" stroke-width="0.9"/>
<line x1="98.25" y1="437.80" x2="98.25" y2="440.70" stroke="#111" stroke-width="0.9"/>
<line x1="105.20" y1="437.80" x2="105.20" y2="440.70" stroke="#111" stroke-width="0.9"/>
<line x1="112.15" y1="437.80" x2="112.15" y2="440.70" stroke="#111" stroke-width="0.9"/>
<line x1="119.10" y1="437.80" x2="119.10" y2="440.70" stroke="#111" stroke-width="0.9"/>
<line x1="126.05" y1="437.80" x2="126.05" y2="440.70" stroke="#111" stroke-width="0.9"/>
<line x1="133.00" y1="437.80" x2="133.00" y2="440.70" stroke="#111" stroke-width="0.9"/>
<line x1="139.95" y1="437.80" x2="139.95" y2="440.70" stroke="#111" stroke-width="0.9"/>
<line x1="146.90" y1="437.80" x2="146.90" y2="440.70" stroke="#111" stroke-width="0.9"/>
<line x1="153.85" y1="437.80" x2="153.85" y2="440.70" stroke="#111" stroke-width="0.9"/>
<line x1="160.80" y1="437.80" x2="160.80" y2="440.70" stroke="#111" stroke-width="0.9"/>
<line x1="167.75" y1="437.80" x2="167.75" y2="440.70" stroke="#111" stroke-width="0.9"/>
<line x1="174.70" y1="437.80" x2="174.70" y2="440.70" stroke="#111" stroke-width="0.9"/>
<line x1="181.65" y1="437.80" x2="181.65" y2="440.70" stroke="#111" stroke-width="0.9"/>
<line x1="188.60" y1="437.80" x2="188.60" y2="440.70" stroke="#111" stroke-width="0.9"/>
<line x1="195.55" y1="437.80" x2="195.55" y2="440.70" stroke="#111" stroke-width="0.9"/>
<line x1="202.50" y1="437.80" x2="202.50" y2="440.70" stroke="#111" stroke-width="0.9"/>
<line x1="209.45" y1="437.80" x2="209.45" y2="440.70" stroke="#111" stroke-width="0.9"/>
<line x1="216.40" y1="437.80" x2="216.40" y2="440.70" stroke="#111" stroke-width="0.9"/>
<line x1="223.35" y1="437.80" x2="223.35" y2="440.70" stroke="#111" stroke-width="0.9"/>
<line x1="230.30" y1="437.80" x2="230.30" y2="440.70" stroke="#111" stroke-width="0.9"/>
<line x1="237.25" y1="437.80" x2="237.25" y2="440.70" stroke="#111" stroke-width="0.9"/>
<line x1="244.20" y1="437.80" x2="244.20" y2="440.70" stroke="#111" stroke-width="0.9"/>
<polyline points="25.27,437.80 32.23,437.80 39.17,437.80 46.12,437.20 53.08,433.98 60.02,430.40 66.97,430.40 73.92,424.90 80.88,425.38 87.82,400.30 94.77,366.15 101.72,337.25 108.67,357.79 115.62,341.79 122.57,341.79 129.53,345.61 136.47,353.85 143.42,332.59 150.38,358.15 157.32,387.76 164.28,378.93 171.22,366.75 178.17,413.32 185.12,415.71 192.07,408.78 199.03,417.02 205.97,433.98 212.92,433.98 219.88,433.98 226.82,437.80 233.77,430.40 240.72,433.98" fill="none" stroke="#8e8e8e" stroke-width="1"/>
<polygon points="25.27,435.00 22.67,439.80 27.88,439.80" fill="#8e8e8e"/>
<polygon points="32.23,435.00 29.62,439.80 34.83,439.80" fill="#8e8e8e"/>
<polygon points="39.17,435.00 36.57,439.80 41.77,439.80" fill="#8e8e8e"/>
<polygon points="46.12,434.40 43.52,439.20 48.73,439.20" fill="#8e8e8e"/>
<polygon points="53.08,431.18 50.48,435.98 55.68,435.98" fill="#8e8e8e"/>
<polygon points="60.02,427.60 57.42,432.40 62.62,432.40" fill="#8e8e8e"/>
<polygon points="66.97,427.60 64.38,432.40 69.57,432.40" fill="#8e8e8e"/>
<polygon points="73.92,422.10 71.33,426.90 76.52,426.90" fill="#8e8e8e"/>
<polygon points="80.88,422.58 78.28,427.38 83.47,427.38" fill="#8e8e8e"/>
<polygon points="87.82,397.50 85.22,402.30 90.42,402.30" fill="#8e8e8e"/>
<polygon points="94.77,363.35 92.17,368.15 97.37,368.15" fill="#8e8e8e"/>
<polygon points="101.72,334.45 99.12,339.25 104.32,339.25" fill="#8e8e8e"/>
<polygon points="108.67,354.99 106.07,359.79 111.27,359.79" fill="#8e8e8e"/>
<polygon points="115.62,338.99 113.02,343.79 118.22,343.79" fill="#8e8e8e"/>
<polygon points="122.57,338.99 119.97,343.79 125.17,343.79" fill="#8e8e8e"/>
<polygon points="129.53,342.81 126.93,347.61 132.12,347.61" fill="#8e8e8e"/>
<polygon points="136.47,351.05 133.88,355.85 139.07,355.85" fill="#8e8e8e"/>
<polygon points="143.42,329.79 140.82,334.59 146.02,334.59" fill="#8e8e8e"/>
<polygon points="150.38,355.35 147.78,360.15 152.97,360.15" fill="#8e8e8e"/>
<polygon points="157.32,384.96 154.72,389.76 159.92,389.76" fill="#8e8e8e"/>
<polygon points="164.28,376.13 161.68,380.93 166.88,380.93" fill="#8e8e8e"/>
<polygon points="171.22,363.95 168.62,368.75 173.82,368.75" fill="#8e8e8e"/>
<polygon points="178.17,410.52 175.57,415.32 180.77,415.32" fill="#8e8e8e"/>
<polygon points="185.12,412.91 182.53,417.71 187.72,417.71" fill="#8e8e8e"/>
<polygon points="192.07,405.98 189.47,410.78 194.67,410.78" fill="#8e8e8e"/>
<polygon points="199.03,414.22 196.43,419.02 201.62,419.02" fill="#8e8e8e"/>
<polygon points="205.97,431.18 203.38,435.98 208.57,435.98" fill="#8e8e8e"/>
<polygon points="212.92,431.18 210.32,435.98 215.52,435.98" fill="#8e8e8e"/>
<polygon points="219.88,431.18 217.28,435.98 222.47,435.98" fill="#8e8e8e"/>
<polygon points="226.82,435.00 224.22,439.80 229.42,439.80" fill="#8e8e8e"/>
<polygon points="233.77,427.60 231.17,432.40 236.37,432.40" fill="#8e8e8e"/>
<polygon points="240.72,431.18 238.12,435.98 243.32,435.98" fill="#8e8e8e"/>
<polyline points="25.27,437.80 32.23,431.95 39.17,437.80 46.12,437.80 53.08,420.96 60.02,437.80 66.97,426.34 73.92,393.85 80.88,393.85 87.82,372.60 94.77,377.61 101.72,345.61 108.67,345.61 115.62,307.76 122.57,307.76 129.53,334.62 136.47,350.86 143.42,372.60 150.38,318.74 157.32,415.83 164.28,410.33 171.22,426.34 178.17,431.95 185.12,415.83 192.07,426.34 199.03,426.34 205.97,426.34 212.92,431.95 219.88,437.80 226.82,431.95 233.77,431.95 240.72,437.80" fill="none" stroke="#111" stroke-width="1"/>
<circle cx="25.27" cy="437.80" r="2.5" fill="#0a0a0a"/>
<circle cx="32.23" cy="431.95" r="2.5" fill="#0a0a0a"/>
<circle cx="39.17" cy="437.80" r="2.5" fill="#0a0a0a"/>
<circle cx="46.12" cy="437.80" r="2.5" fill="#0a0a0a"/>
<circle cx="53.08" cy="420.96" r="2.5" fill="#0a0a0a"/>
<circle cx="60.02" cy="437.80" r="2.5" fill="#0a0a0a"/>
<circle cx="66.97" cy="426.34" r="2.5" fill="#0a0a0a"/>
<circle cx="73.92" cy="393.85" r="2.5" fill="#0a0a0a"/>
<circle cx="80.88" cy="393.85" r="2.5" fill="#0a0a0a"/>
<circle cx="87.82" cy="372.60" r="2.5" fill="#0a0a0a"/>
<circle cx="94.77" cy="377.61" r="2.5" fill="#0a0a0a"/>
<circle cx="101.72" cy="345.61" r="2.5" fill="#0a0a0a"/>
<circle cx="108.67" cy="345.61" r="2.5" fill="#0a0a0a"/>
<circle cx="115.62" cy="307.76" r="2.5" fill="#0a0a0a"/>
<circle cx="122.57" cy="307.76" r="2.5" fill="#0a0a0a"/>
<circle cx="129.53" cy="334.62" r="2.5" fill="#0a0a0a"/>
<circle cx="136.47" cy="350.86" r="2.5" fill="#0a0a0a"/>
<circle cx="143.42" cy="372.60" r="2.5" fill="#0a0a0a"/>
<circle cx="150.38" cy="318.74" r="2.5" fill="#0a0a0a"/>
<circle cx="157.32" cy="415.83" r="2.5" fill="#0a0a0a"/>
<circle cx="164.28" cy="410.33" r="2.5" fill="#0a0a0a"/>
<circle cx="171.22" cy="426.34" r="2.5" fill="#0a0a0a"/>
<circle cx="178.17" cy="431.95" r="2.5" fill="#0a0a0a"/>
<circle cx="185.12" cy="415.83" r="2.5" fill="#0a0a0a"/>
<circle cx="192.07" cy="426.34" r="2.5" fill="#0a0a0a"/>
<circle cx="199.03" cy="426.34" r="2.5" fill="#0a0a0a"/>
<circle cx="205.97" cy="426.34" r="2.5" fill="#0a0a0a"/>
<circle cx="212.92" cy="431.95" r="2.5" fill="#0a0a0a"/>
<circle cx="219.88" cy="437.80" r="2.5" fill="#0a0a0a"/>
<circle cx="226.82" cy="431.95" r="2.5" fill="#0a0a0a"/>
<circle cx="233.77" cy="431.95" r="2.5" fill="#0a0a0a"/>
<circle cx="240.72" cy="437.80" r="2.5" fill="#0a0a0a"/>
<text x="25.57" y="448.80" font-size="6.7" text-anchor="middle" font-weight="normal" fill="#000" stroke="#000" stroke-width="0.13">1</text>
<text x="39.47" y="448.80" font-size="6.7" text-anchor="middle" font-weight="normal" fill="#000" stroke="#000" stroke-width="0.13">3</text>
<text x="53.38" y="448.80" font-size="6.7" text-anchor="middle" font-weight="normal" fill="#000" stroke="#000" stroke-width="0.13">5</text>
<text x="67.27" y="448.80" font-size="6.7" text-anchor="middle" font-weight="normal" fill="#000" stroke="#000" stroke-width="0.13">7</text>
<text x="81.17" y="448.80" font-size="6.7" text-anchor="middle" font-weight="normal" fill="#000" stroke="#000" stroke-width="0.13">9</text>
<text x="95.07" y="448.80" font-size="6.7" text-anchor="middle" font-weight="normal" fill="#000" stroke="#000" stroke-width="0.13">11</text>
<text x="108.97" y="448.80" font-size="6.7" text-anchor="middle" font-weight="normal" fill="#000" stroke="#000" stroke-width="0.13">13</text>
<text x="122.87" y="448.80" font-size="6.7" text-anchor="middle" font-weight="normal" fill="#000" stroke="#000" stroke-width="0.13">15</text>
<text x="136.78" y="448.80" font-size="6.7" text-anchor="middle" font-weight="normal" fill="#000" stroke="#000" stroke-width="0.13">17</text>
<text x="150.68" y="448.80" font-size="6.7" text-anchor="middle" font-weight="normal" fill="#000" stroke="#000" stroke-width="0.13">19</text>
<text x="164.58" y="448.80" font-size="6.7" text-anchor="middle" font-weight="normal" fill="#000" stroke="#000" stroke-width="0.13">21</text>
<text x="178.47" y="448.80" font-size="6.7" text-anchor="middle" font-weight="normal" fill="#000" stroke="#000" stroke-width="0.13">23</text>
<text x="192.38" y="448.80" font-size="6.7" text-anchor="middle" font-weight="normal" fill="#000" stroke="#000" stroke-width="0.13">25</text>
<text x="206.28" y="448.80" font-size="6.7" text-anchor="middle" font-weight="normal" fill="#000" stroke="#000" stroke-width="0.13">27</text>
<text x="220.18" y="448.80" font-size="6.7" text-anchor="middle" font-weight="normal" fill="#000" stroke="#000" stroke-width="0.13">29</text>
<text x="234.07" y="448.80" font-size="6.7" text-anchor="middle" font-weight="normal" fill="#000" stroke="#000" stroke-width="0.13">31</text>
<text x="123.80" y="461.40" font-size="8.7" text-anchor="middle" font-weight="normal" fill="#000" stroke="#000" stroke-width="0.13">IMGT - CDR3 length</text>
<text x="124.40" y="470.00" font-size="8.0" text-anchor="middle" font-weight="normal" fill="#000" stroke="#000" stroke-width="0.13">(in amino acids)</text>
<text x="6.00" y="367.00" font-size="8.6" text-anchor="middle" font-weight="normal" fill="#000" transform="rotate(-90 6.00 367.00)" stroke="#000" stroke-width="0.13">%</text>
<rect x="192.3" y="298.0" width="48.5" height="24.2" fill="#fff" stroke="#8a8a8a" stroke-width="0.6"/>
<line x1="195.40" y1="306.20" x2="212.30" y2="306.20" stroke="#8e8e8e" stroke-width="1"/>
<polygon points="203.8,303.2 200.9,308.4 206.7,308.4" fill="#8e8e8e"/>
<line x1="195.40" y1="315.70" x2="212.30" y2="315.70" stroke="#111" stroke-width="1"/>
<circle cx="203.8" cy="315.7" r="2.5" fill="#0a0a0a"/>
<text x="215.40" y="308.50" font-size="6.4" text-anchor="start" font-weight="normal" fill="#000" stroke="#000" stroke-width="0.13">control</text>
<text x="215.40" y="318.00" font-size="6.4" text-anchor="start" font-weight="normal" fill="#000" stroke="#000" stroke-width="0.13">NBS</text>
</g>
</svg>
</body></html>
